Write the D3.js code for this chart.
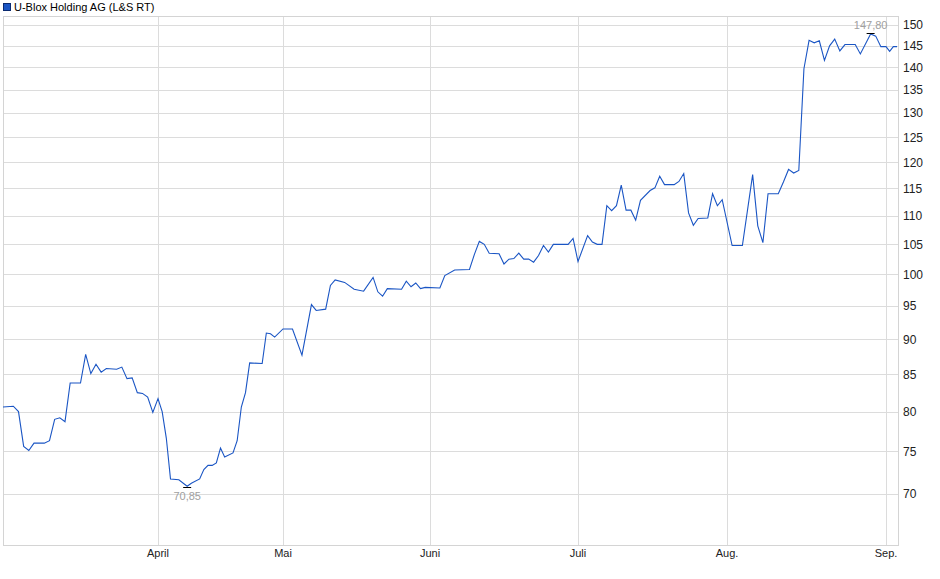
<!DOCTYPE html>
<html><head><meta charset="utf-8">
<script src="https://cdn.jsdelivr.net/npm/d3@7"></script>
<style>body{margin:0;background:#fff}svg{display:block;font-family:"Liberation Sans",Arial,sans-serif}</style>
</head><body><svg id="c" width="940" height="579"></svg>
<script>
const title = "U-Blox Holding AG (L&S RT)";
const dates = ["2020-03-02","2020-03-04","2020-03-05","2020-03-06","2020-03-07","2020-03-08","2020-03-10","2020-03-11","2020-03-12","2020-03-13","2020-03-14","2020-03-15","2020-03-17","2020-03-18","2020-03-19","2020-03-20","2020-03-21","2020-03-22","2020-03-24","2020-03-25","2020-03-26","2020-03-27","2020-03-28","2020-03-29","2020-03-30","2020-03-31",
"2020-04-01","2020-04-02","2020-04-03","2020-04-04","2020-04-06","2020-04-08","2020-04-09","2020-04-11","2020-04-12","2020-04-13","2020-04-14","2020-04-15","2020-04-16","2020-04-17","2020-04-19","2020-04-20","2020-04-21","2020-04-22","2020-04-23","2020-04-26","2020-04-27","2020-04-28","2020-04-29",
"2020-05-01","2020-05-03","2020-05-05","2020-05-07","2020-05-08","2020-05-10","2020-05-11","2020-05-12","2020-05-14","2020-05-16","2020-05-18","2020-05-20","2020-05-21","2020-05-22","2020-05-23","2020-05-26","2020-05-27","2020-05-28","2020-05-29","2020-05-30","2020-05-31",
"2020-06-03","2020-06-04","2020-06-06","2020-06-09","2020-06-10","2020-06-11","2020-06-12","2020-06-13","2020-06-15","2020-06-16","2020-06-17","2020-06-18","2020-06-19","2020-06-20","2020-06-21","2020-06-22","2020-06-23","2020-06-24","2020-06-25","2020-06-26","2020-06-29","2020-06-30",
"2020-07-01","2020-07-03","2020-07-04","2020-07-05","2020-07-06","2020-07-07","2020-07-08","2020-07-09","2020-07-10","2020-07-11","2020-07-12","2020-07-13","2020-07-14","2020-07-16","2020-07-17","2020-07-18","2020-07-19","2020-07-21","2020-07-22","2020-07-23","2020-07-24","2020-07-25","2020-07-26","2020-07-28","2020-07-29","2020-07-30","2020-07-31",
"2020-08-02","2020-08-04","2020-08-06","2020-08-07","2020-08-08","2020-08-09","2020-08-11","2020-08-12","2020-08-13","2020-08-14","2020-08-15","2020-08-16","2020-08-17","2020-08-18","2020-08-19","2020-08-20","2020-08-21","2020-08-22","2020-08-23","2020-08-24","2020-08-26","2020-08-27","2020-08-29","2020-08-30","2020-08-31",
"2020-09-01","2020-09-02","2020-09-03","2020-09-04"];
const values = [80.6,80.7,80.0,75.6,75.1,76.0,76.0,76.3,79.0,79.2,78.7,83.8,83.8,87.8,85.1,86.4,85.3,85.8,85.7,86.0,84.4,84.5,82.5,82.4,81.9,79.9,
81.7,80.0,76.6,71.7,71.6,70.85,71.2,71.7,72.8,73.3,73.3,73.6,75.4,74.3,74.8,76.3,80.6,82.5,86.6,86.5,90.9,90.8,90.3,
91.5,91.5,87.7,95.2,94.3,94.5,98.2,99.1,98.7,97.6,97.3,99.5,97.2,96.5,97.7,97.6,98.9,98.0,98.6,97.7,97.9,
97.8,99.8,100.7,100.8,103.3,105.5,105.0,103.5,103.4,101.7,102.5,102.6,103.5,102.5,102.5,102.0,103.1,104.8,103.7,105.0,105.0,106.0,
102.1,106.5,105.4,105.0,105.0,111.8,110.9,111.8,115.6,111.0,111.0,109.2,112.8,114.6,115.1,117.3,115.7,115.7,116.3,117.8,110.5,108.3,109.5,109.6,114.0,111.8,112.9,
104.8,104.8,117.6,108.2,105.3,114.0,114.0,116.2,118.6,117.9,118.4,139.7,146.3,145.7,146.2,141.6,145.0,146.6,143.8,145.3,145.3,143.1,147.8,147.3,144.8,
144.8,143.7,144.8,144.8];
const yTicks = [70,75,80,85,90,95,100,105,110,115,120,125,130,135,140,145,150];
const months = [["2020-04-01","April"],["2020-05-01","Mai"],["2020-06-01","Juni"],["2020-07-01","Juli"],["2020-08-01","Aug."],["2020-09-01","Sep."]];

const P = d3.timeParse("%Y-%m-%d");
const data = dates.map((d,i)=>({d:P(d),v:values[i]}));
const L=3,R=898,T=16,B=545;
const x = d3.scaleTime()
  .domain(["2020-03-02","2020-04-01","2020-05-01","2020-06-01","2020-07-01","2020-08-01","2020-09-01","2020-09-04"].map(P))
  .range([L,158,283,430,578,727,886,897]);
const y = d3.scaleLog().domain([64.4,152.2]).range([B,T]);
const svg = d3.select("#c");
const g = svg.append("g");
g.selectAll(".hg").data(yTicks).join("line").attr("x1",L).attr("x2",R)
  .attr("y1",d=>Math.round(y(d))+0.5).attr("y2",d=>Math.round(y(d))+0.5).attr("stroke","#dcdcdc");
g.selectAll(".vg").data(months).join("line").attr("y1",T).attr("y2",B)
  .attr("x1",d=>Math.round(x(P(d[0])))+0.5).attr("x2",d=>Math.round(x(P(d[0])))+0.5).attr("stroke","#dcdcdc");
g.append("rect").attr("x",L+0.5).attr("y",T+0.5).attr("width",R-L).attr("height",B-T).attr("fill","none").attr("stroke","#d4d4d4");
g.selectAll(".yl").data(yTicks).join("text").attr("x",903).attr("y",d=>y(d)+4.5)
  .attr("font-size",12).attr("fill","#222").text(d=>d);
g.selectAll(".xl").data(months).join("text").attr("x",d=>x(P(d[0]))).attr("y",557)
  .attr("text-anchor","middle").attr("font-size",11).attr("fill","#222").text(d=>d[1]);
const line = d3.line().x(d=>x(d.d)).y(d=>y(d.v));
g.append("path").datum(data).attr("d",line).attr("fill","none").attr("stroke","#1a55c4").attr("stroke-width",1.1);
const mn = data.reduce((a,b)=>b.v<a.v?b:a), mx = data.reduce((a,b)=>b.v>a.v?b:a);
const fmt = v=>v.toFixed(2).replace(".",",");
[[mn,1],[mx,-1]].forEach(([p,s])=>{
  g.append("line").attr("x1",x(p.d)-4).attr("x2",x(p.d)+4).attr("y1",Math.round(y(p.v))+0.5+s).attr("y2",Math.round(y(p.v))+0.5+s).attr("stroke","#000");
  g.append("text").attr("x",x(p.d)).attr("y",s>0?y(p.v)+14:y(p.v)-5).attr("text-anchor","middle")
   .attr("font-size",11).attr("fill","#a0a0a0").text(fmt(p.v));
});
svg.append("rect").attr("x",3.5).attr("y",3.5).attr("width",7).attr("height",7).attr("fill","#1a55c4").attr("stroke","#0a2a70");
svg.append("text").attr("x",14).attr("y",11).attr("font-size",11).attr("fill","#000").text(title);
</script></body></html>
